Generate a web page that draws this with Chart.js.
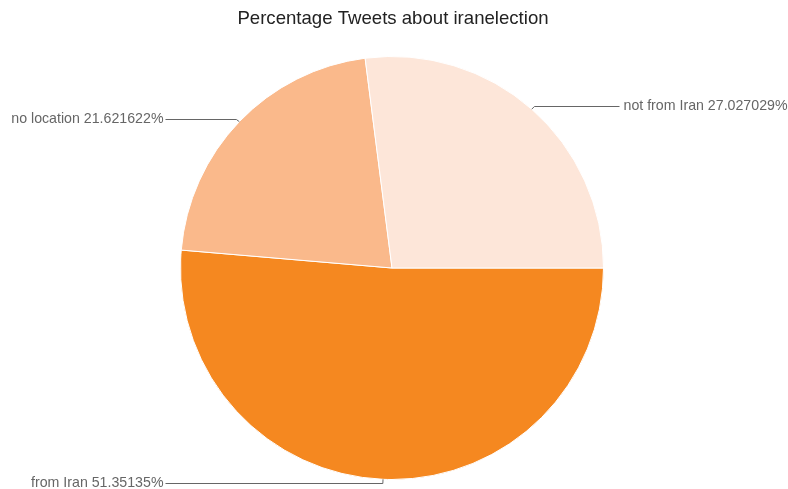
<!DOCTYPE html>
<html>
<head>
<meta charset="utf-8">
<script src="https://cdn.jsdelivr.net/npm/chart.js@4"></script>
<style>
  html, body { margin: 0; padding: 0; background: #ffffff; }
  #wrap { width: 788px; height: 489px; position: relative; }
</style>
</head>
<body>
<div id="wrap"><canvas id="c" width="788" height="489"></canvas></div>
<script>
// Data (clockwise order starting at 3 o'clock)
const chartTitle = 'Percentage Tweets about iranelection';
const categories = ['from Iran', 'no location', 'not from Iran'];
const values = [51.35135, 21.621622, 27.027029];
const valueLabels = ['51.35135%', '21.621622%', '27.027029%'];
const sliceColors = ['#f58820', '#fab98b', '#fde6d9'];

const labelPlugin = {
  id: 'sideLabels',
  afterDraw(chart) {
    const ctx = chart.ctx;
    ctx.save();
    // Title
    ctx.font = '18.6px "Liberation Sans", Arial, sans-serif';
    ctx.fillStyle = '#222222';
    ctx.textAlign = 'center';
    ctx.textBaseline = 'middle';
    ctx.fillText(chartTitle, chart.width / 2 - 1, 19);

    const meta = chart.getDatasetMeta(0);
    ctx.font = '14.2px "Liberation Sans", Arial, sans-serif';
    ctx.textBaseline = 'middle';
    meta.data.forEach((arc, i) => {
      const p = arc.getProps(['x', 'y', 'startAngle', 'endAngle', 'outerRadius'], true);
      const mid = (p.startAngle + p.endAngle) / 2;
      const r = p.outerRadius;
      const ex = p.x + Math.cos(mid) * r;
      const ey = p.y + Math.sin(mid) * r;
      const bx = p.x + Math.cos(mid) * (r + 4);
      const by = p.y + Math.sin(mid) * (r + 4);
      const right = Math.cos(mid) > 0;
      const text = categories[i] + ' ' + valueLabels[i];
      let lineEnd, tx;
      if (right) {
        tx = p.x + r + 20;
        lineEnd = tx - 4;
        ctx.textAlign = 'left';
      } else {
        tx = p.x - r - 17;
        lineEnd = tx + 2;
        ctx.textAlign = 'right';
      }
      ctx.strokeStyle = '#666666';
      ctx.lineWidth = 1;
      ctx.beginPath();
      ctx.moveTo(ex, ey);
      ctx.lineTo(bx, Math.round(by) + 0.5);
      ctx.lineTo(lineEnd, Math.round(by) + 0.5);
      ctx.stroke();
      ctx.fillStyle = '#666666';
      ctx.fillText(text, tx, Math.round(by) + 0.5);
    });
    ctx.restore();
  }
};

new Chart(document.getElementById('c'), {
  type: 'pie',
  data: {
    labels: categories,
    datasets: [{
      data: values,
      backgroundColor: sliceColors,
      borderColor: '#ffffff',
      borderWidth: 1
    }]
  },
  options: {
    responsive: false,
    animation: false,
    devicePixelRatio: 1,
    rotation: 90,
    layout: { padding: { top: 56, bottom: 9, left: 0, right: 4 } },
    plugins: {
      legend: { display: false },
      tooltip: { enabled: false },
      title: { display: false }
    }
  },
  plugins: [labelPlugin]
});
</script>
</body>
</html>
